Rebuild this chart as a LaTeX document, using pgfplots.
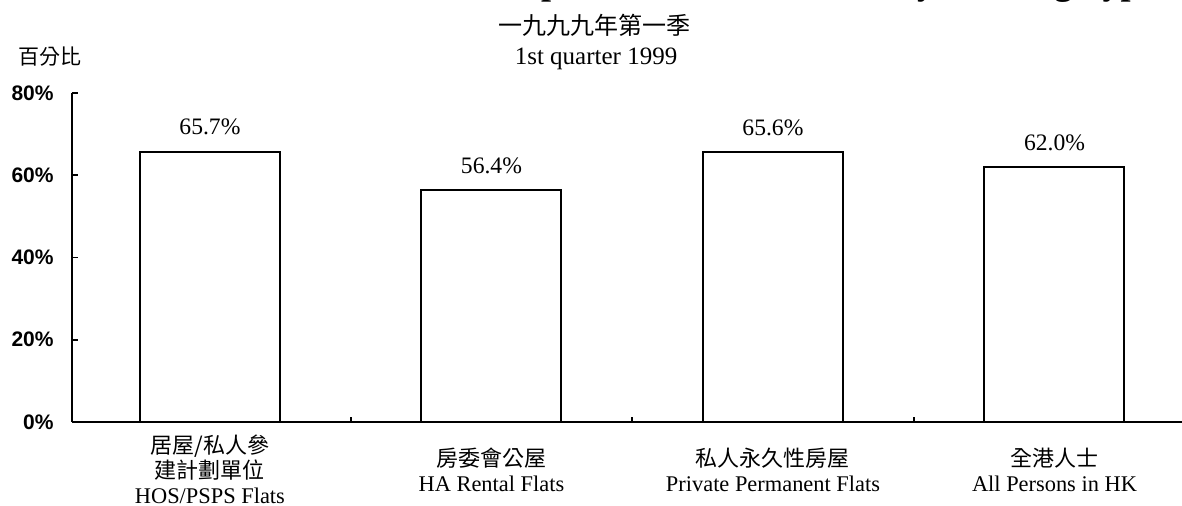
\documentclass[border=0pt]{standalone}
\usepackage{fontspec}
\setmainfont{Liberation Serif}
\newfontfamily\cjk{Noto Sans CJK TC}
\newfontfamily\arialfont{Liberation Sans}
\usepackage{pgfplots}
\pgfplotsset{compat=1.18}
\begin{document}
\begin{tikzpicture}
% fixed page area
\useasboundingbox (0pt,0pt) rectangle (591pt,-253pt);
% main title (runs above the page edge)
\node[overlay, anchor=base east, inner sep=0pt, font=\bfseries\fontsize{18}{20}\selectfont]
  at (578.5pt,2.5pt) {Labour Force Participation Rate of Persons by Housing Type};
% subtitles
\node[anchor=center, inner sep=0pt, font=\cjk\fontsize{12}{14}\selectfont]
  at (297pt,-12.5pt) {一九九九年第一季};
\node[anchor=base, inner sep=0pt, font=\fontsize{12.5}{14}\selectfont]
  at (298pt,-32.5pt) {1st quarter 1999};
% unit label
\node[anchor=west, inner sep=0pt, font=\cjk\fontsize{10.5}{12}\selectfont]
  at (9pt,-28.5pt) {百分比};
\begin{axis}[
  at={(36pt,-211pt)}, anchor=south west,
  scale only axis, width=555pt, height=164.5pt,
  xmin=-0.490, xmax=3.453, ymin=0, ymax=80,
  axis x line*=bottom, axis y line*=left,
  x axis line style={line width=1.4pt, black},
  y axis line style={line width=1pt, black},
  ybar, bar width=70pt,
  /pgf/number format/assume math mode=true,
  xtick={0,1,2,3},
  xticklabels={
    {{\cjk\fontsize{11}{12.5}\selectfont 居屋/私人參}\\{\cjk\fontsize{11}{12.5}\selectfont 建計劃單位}\\HOS/PSPS Flats},
    {{\cjk\fontsize{11}{12.5}\selectfont 房委會公屋}\\HA Rental Flats},
    {{\cjk\fontsize{11}{12.5}\selectfont 私人永久性房屋}\\Private Permanent Flats},
    {{\cjk\fontsize{11}{12.5}\selectfont 全港人士}\\All Persons in HK}},
  xticklabel style={align=center, anchor=center, yshift=-23.8pt,
    font=\fontsize{11.2}{12.5}\selectfont},
  major x tick style={draw=none},
  minor xtick={0.5,1.5,2.5},
  minor x tick style={line width=0.8pt, black},
  minor tick length=2.5pt,
  xtick align=inside,
  ytick={0,20,40,60,80},
  yticklabel={\pgfmathprintnumber{\tick}\%},
  yticklabel style={anchor=east, inner sep=0pt, xshift=-9pt,
    font=\arialfont\bfseries\fontsize{10.5}{12}\selectfont},
  ytick align=inside,
  major tick length=3pt,
  y tick style={line width=0.8pt, black},
  nodes near coords={\pgfmathprintnumber[fixed,fixed zerofill,precision=1]{\pgfplotspointmeta}\%},
  nodes near coords style={anchor=base, inner sep=0pt, yshift=8.5pt,
    font=\fontsize{11.8}{13}\selectfont},
]
\addplot[draw=black, fill=white, line width=1pt]
  coordinates {(0,65.7) (1,56.4) (2,65.6) (3,62.0)};
\end{axis}
\end{tikzpicture}
\end{document}
